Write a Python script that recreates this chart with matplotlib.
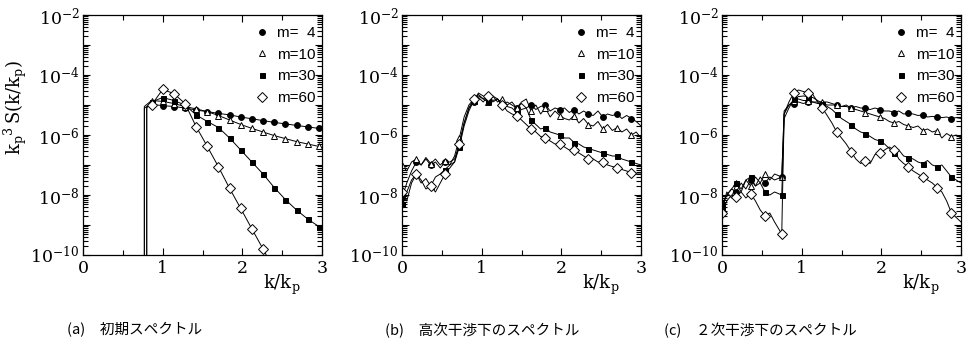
import numpy as np
import matplotlib
matplotlib.use("Agg")
import matplotlib.pyplot as plt
from matplotlib.lines import Line2D
from matplotlib.ticker import FixedLocator, FuncFormatter, MultipleLocator, NullFormatter

plt.rcParams["mathtext.fontset"] = "dejavuserif"
plt.rcParams["font.family"] = ["DejaVu Serif"]

LABELS = ["m=  4", "m=10", "m=30", "m=60"]

# ---- panel (a): initial spectrum (log10 values) ----
K_A = [0.86, 1.00, 1.14, 1.28, 1.42, 1.56, 1.70, 1.84, 1.98, 2.12, 2.26, 2.40, 2.54, 2.68, 2.82, 2.96]
CUT_A = [0.77, 0.77, 0.80, 0.80]          # low-k cutoff of each run
CUT_TOP_A = [-5.10, -5.05, -5.10, -5.05]  # level just above the cutoff
A_M4 = [-4.98, -5.02, -5.05, -5.10, -5.17, -5.22, -5.28, -5.33, -5.40, -5.46, -5.52, -5.58, -5.63, -5.68, -5.73, -5.78]
A_M10 = [-4.85, -4.88, -4.95, -5.05, -5.13, -5.22, -5.35, -5.50, -5.65, -5.78, -5.90, -6.02, -6.12, -6.22, -6.30, -6.38]
A_M30 = [-4.90, -4.75, -4.85, -5.00, -5.33, -5.55, -5.75, -6.10, -6.50, -6.90, -7.30, -7.75, -8.15, -8.50, -8.80, -9.05]
A_M60 = [-5.00, -4.48, -4.62, -4.95, -5.72, -6.38, -7.06, -7.78, -8.45, -9.13, -9.80, -10.5, np.nan, np.nan, np.nan, np.nan]

# ---- panels (b), (c): log10 values on a 0.06 grid ----
K_B = [0.00, 0.06, 0.12, 0.18, 0.24, 0.30, 0.36, 0.42, 0.48, 0.54,
       0.60, 0.66, 0.72, 0.78, 0.84, 0.90, 0.96, 1.02, 1.08, 1.14,
       1.20, 1.26, 1.32, 1.38, 1.44, 1.50, 1.56, 1.62, 1.68, 1.74,
       1.80, 1.86, 1.92, 1.98, 2.04, 2.10, 2.16, 2.22, 2.28, 2.34,
       2.40, 2.46, 2.52, 2.58, 2.64, 2.70, 2.76, 2.82, 2.88, 2.94,
       3.00]
K_C = [0.00, 0.06, 0.12, 0.18, 0.24, 0.30, 0.36, 0.42, 0.48, 0.54,
       0.60, 0.66, 0.75, 0.78, 0.84, 0.90, 0.96, 1.02, 1.08, 1.14,
       1.20, 1.26, 1.32, 1.38, 1.44, 1.50, 1.56, 1.62, 1.68, 1.74,
       1.80, 1.86, 1.92, 1.98, 2.04, 2.10, 2.16, 2.22, 2.28, 2.34,
       2.40, 2.46, 2.52, 2.58, 2.64, 2.70, 2.76, 2.82, 2.88, 2.94,
       3.00]

B_M4 = [-8.1, -7.6, -7.2, -6.9, -7.0, -6.8, -7.0, -6.9, -7.1, -6.9,
        -6.9, -6.8, -6.3, -5.6, -5.1, -4.9, -4.75, -4.9, -4.7, -4.9,
        -4.8, -5.0, -4.9, -5.0, -5.1, -4.95, -5.1, -5.0, -5.15, -5.05,
        -5.0, -5.2, -5.1, -5.15, -5.1, -5.25, -5.15, -5.3, -5.2, -5.3,
        -5.35, -5.2, -5.4, -5.3, -5.35, -5.3, -5.45, -5.35, -5.45, -5.55,
        -5.7]
B_M10 = [-7.0, -7.2, -6.9, -6.8, -7.0, -6.75, -6.95, -6.8, -7.0, -6.85,
         -7.0, -6.7, -6.1, -5.4, -5.0, -4.8, -4.7, -4.8, -4.9, -4.7,
         -4.9, -4.8, -5.0, -4.9, -5.1, -4.9, -4.8, -5.2, -5.0, -5.3,
         -5.1, -5.4, -5.2, -5.35, -5.45, -5.5, -5.35, -5.6, -5.45, -5.65,
         -5.7, -5.55, -5.8, -5.65, -5.85, -5.75, -5.9, -5.8, -6.0, -5.9,
         -6.1]
B_M30 = [-8.3, -7.9, -7.5, -7.3, -7.6, -7.45, -7.7, -7.4, -7.3, -7.15,
         -7.0, -6.9, -6.4, -5.7, -5.2, -4.85, -4.6, -4.7, -4.85, -4.7,
         -4.8, -5.0, -5.05, -5.1, -5.25, -5.15, -5.1, -5.5, -5.65, -5.8,
         -5.75, -5.9, -5.95, -6.0, -6.1, -6.1, -6.25, -6.3, -6.4, -6.45,
         -6.5, -6.55, -6.6, -6.65, -6.7, -6.7, -6.8, -6.85, -6.9, -6.95,
         -7.0]
B_M60 = [-7.9, -8.2, -7.6, -7.3, -7.5, -7.8, -7.7, -7.9, -7.6, -7.3,
         -7.1, -6.9, -6.3, -5.6, -5.1, -4.8, -4.65, -4.8, -4.7, -4.85,
         -4.8, -5.0, -5.2, -5.3, -5.35, -5.5, -5.65, -5.8, -5.9, -6.05,
         -6.1, -6.2, -6.3, -6.3, -6.4, -6.5, -6.5, -6.6, -6.7, -6.8,
         -6.8, -6.9, -6.9, -7.0, -7.05, -7.1, -7.15, -7.2, -7.25, -7.3,
         -7.3]

C_M4 = [-8.3, -8.0, -7.8, -7.9, -7.6, -7.8, -7.5, -7.7, -7.4, -7.6,
        -7.4, -7.5, -7.4, -5.2, -5.0, -4.95, -4.9, -4.95, -4.9, -4.9,
        -4.95, -4.95, -5.0, -5.0, -5.0, -5.05, -5.0, -5.1, -5.05, -5.1,
        -5.1, -5.15, -5.1, -5.15, -5.2, -5.2, -5.25, -5.2, -5.3, -5.28,
        -5.3, -5.35, -5.33, -5.4, -5.38, -5.4, -5.42, -5.4, -5.45, -5.42,
        -5.45]
C_M10 = [-8.5, -7.9, -8.1, -7.6, -7.9, -7.5, -7.7, -7.4, -7.6, -7.3,
         -7.5, -7.3, -7.4, -5.3, -5.0, -4.85, -4.8, -4.85, -4.85, -4.9,
         -4.9, -4.9, -4.9, -4.95, -5.0, -5.05, -5.05, -5.1, -5.15, -5.2,
         -5.25, -5.3, -5.35, -5.4, -5.45, -5.55, -5.6, -5.55, -5.65, -5.7,
         -5.75, -5.7, -5.85, -5.8, -5.9, -5.85, -6.1, -5.95, -6.05, -6.0,
         -6.1]
C_M30 = [-8.4, -8.0, -7.8, -7.6, -7.8, -7.5, -7.4, -7.7, -7.6, -7.9,
         -8.0, -7.9, -8.0, -5.45, -5.1, -4.8, -4.72, -4.7, -4.72, -4.75,
         -4.85, -4.95, -5.05, -5.15, -5.3, -5.45, -5.55, -5.65, -5.8, -5.9,
         -5.95, -6.05, -6.15, -6.2, -6.3, -6.45, -6.6, -6.5, -6.7, -6.75,
         -6.8, -6.9, -6.95, -6.85, -7.0, -7.05, -7.0, -7.2, -7.4, -7.5,
         -7.6]
C_M60 = [-8.6, -8.2, -8.0, -8.05, -7.9, -8.1, -7.95, -8.2, -8.5, -8.7,
         -8.6, -8.9, -9.3, -5.3, -4.9, -4.6, -4.5, -4.55, -4.6, -4.65,
         -4.9, -5.1, -5.35, -5.6, -5.9, -6.1, -6.3, -6.55, -6.8, -6.95,
         -6.85, -6.95, -6.65, -6.6, -6.5, -6.4, -6.5, -6.8, -6.95, -7.06,
         -7.2, -7.3, -7.4, -7.5, -7.6, -7.75, -7.9, -8.2, -8.6, -8.75,
         -8.9]

CAPTIONS = ["(a)　初期スペクトル", "(b)　高次干渉下のスペクトル", "(c)　２次干渉下のスペクトル"]
CAPTION_X = [67, 385, 664]

STYLES = [dict(marker="o", ms=4.2, mfc="black"),
          dict(marker="^", ms=3.8, mfc="white"),
          dict(marker="s", ms=3.6, mfc="black"),
          dict(marker="D", ms=4.6, mfc="white")]

W, H = 967, 351
fig = plt.figure(figsize=(W / 100, H / 100), dpi=100)

MAJOR_Y = [10.0 ** e for e in range(-10, -1)]
MINOR_Y = [s * 10.0 ** e for e in range(-10, -2) for s in range(2, 10)]


def setup(ax):
    ax.set_yscale("log")
    ax.set_xlim(0, 3)
    ax.set_ylim(1e-10, 1e-2)
    ax.xaxis.set_major_locator(MultipleLocator(1))
    ax.xaxis.set_minor_locator(MultipleLocator(0.5))
    ax.yaxis.set_major_locator(FixedLocator(MAJOR_Y))
    ax.yaxis.set_major_formatter(FuncFormatter(
        lambda v, p: "$10^{%d}$" % round(np.log10(v)) if round(np.log10(v)) % 2 == 0 else ""))
    ax.yaxis.set_minor_locator(FixedLocator(MINOR_Y))
    ax.yaxis.set_minor_formatter(NullFormatter())
    ax.tick_params(which="both", direction="in", top=True, right=True, width=0.8, labelsize=12.5)
    ax.tick_params(axis="x", which="major", pad=3.5)
    ax.tick_params(axis="y", which="major", pad=2.5)
    ax.tick_params(which="major", length=5)
    ax.tick_params(which="minor", length=3.5, width=0.8)
    for s in ax.spines.values():
        s.set_linewidth(0.9)
    ax.text(0.83, -0.125, r"$\mathrm{k/k_p}$", transform=ax.transAxes,
            ha="center", va="center", fontsize=13)
    handles = [Line2D([], [], ls="none", color="black", mec="black", mew=0.7, **st) for st in STYLES]
    ax.legend(handles, LABELS, loc="upper left", bbox_to_anchor=(0.665, 1.005), frameon=False,
              handlelength=1.0, handletextpad=0.5, labelspacing=0.5, borderpad=0.3,
              prop={"family": "Liberation Sans", "size": 11})


def draw(ax, x, y, st, markevery):
    ax.plot(x, 10.0 ** np.asarray(y, dtype=float), color="black", lw=0.7, mec="black", mew=0.7,
            markevery=markevery, **st)


left_px = [83, 402, 722]
axes = []
for i in range(3):
    ax = fig.add_axes([left_px[i] / W, (H - 255) / H, 239 / W, 240 / H])
    setup(ax)
    axes.append(ax)

# panel a
for cut, top, vals, st in zip(CUT_A, CUT_TOP_A, [A_M4, A_M10, A_M30, A_M60], STYLES):
    draw(axes[0], [cut, cut] + K_A, [-12.0, top] + vals, st, slice(2, None))

# panel b
for vals, st in zip([B_M4, B_M10, B_M30, B_M60], STYLES):
    draw(axes[1], K_B, vals, st, 3)

# panel c
for vals, st in zip([C_M4, C_M10, C_M30, C_M60], STYLES):
    draw(axes[2], K_C, vals, st, 3)

fig.text(15 / W, 1 - 108 / H, r"$\mathrm{k_p}^{3}\,\mathrm{S(k/k_p)}$", rotation=90,
         ha="center", va="center", fontsize=13)

for cx, cap in zip(CAPTION_X, CAPTIONS):
    fig.text(cx / W, 1 - 330 / H, cap, ha="left", va="center", fontsize=10.5,
             family=["Noto Sans CJK JP", "DejaVu Sans"])

fig.savefig("out.png", dpi=100)
